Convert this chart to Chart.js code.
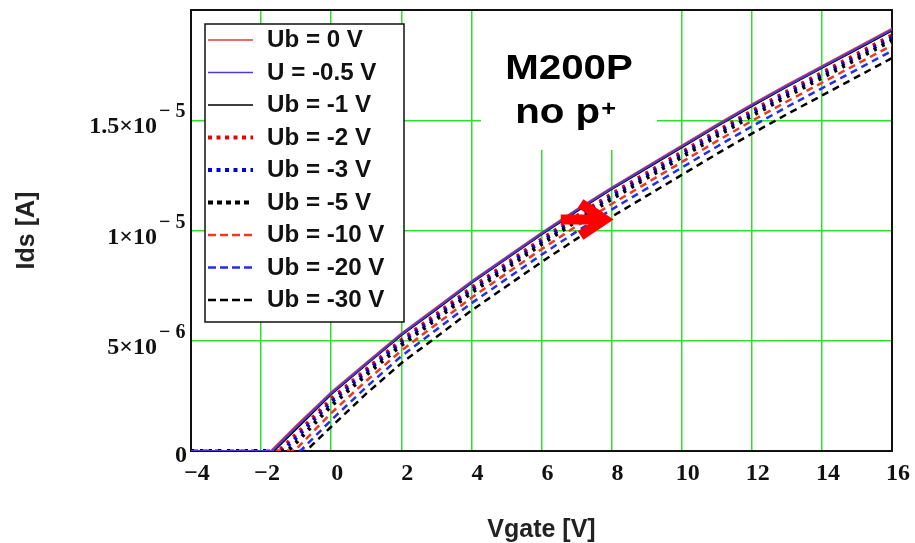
<!DOCTYPE html>
<html>
<head>
<meta charset="utf-8">
<script src="https://cdn.jsdelivr.net/npm/chart.js@4.4.1/dist/chart.umd.min.js"></script>
<style>
  html, body { margin: 0; padding: 0; background: #fff; }
</style>
</head>
<body>
<canvas id="chart" width="915" height="543"></canvas>
<script>
// gate voltage points (V) where the curves were read
const vgate = [-1, 0, 1, 2, 3, 4, 5, 6, 7, 8, 9, 10, 11, 12, 13, 14, 15, 16];

const seriesLabels = ['Ub = 0 V', 'U = -0.5 V', 'Ub = -1 V', 'Ub = -2 V', 'Ub = -3 V',
  'Ub = -5 V', 'Ub = -10 V', 'Ub = -20 V', 'Ub = -30 V'];

// gate voltage where each curve leaves zero
const thresholds = [-1.72, -1.68, -1.64, -1.5, -1.4, -1.25, -1.05, -0.88, -0.72];

// Ids in uA at each vgate point
const ub0  = [1.15, 2.67, 4.0, 5.33, 6.5, 7.7, 8.8, 9.9, 10.95, 11.95, 12.9, 13.85, 14.8, 15.72, 16.6, 17.45, 18.3, 19.15];
const ub05 = [1.08, 2.62, 3.96, 5.29, 6.46, 7.66, 8.76, 9.86, 10.91, 11.91, 12.86, 13.81, 14.76, 15.68, 16.56, 17.41, 18.26, 19.11];
const ub1  = [1.0, 2.57, 3.92, 5.25, 6.42, 7.62, 8.72, 9.82, 10.87, 11.87, 12.82, 13.77, 14.72, 15.64, 16.52, 17.37, 18.22, 19.07];
const ub2  = [0.75, 2.35, 3.7, 5.03, 6.2, 7.4, 8.5, 9.6, 10.65, 11.65, 12.6, 13.55, 14.5, 15.42, 16.3, 17.15, 18.0, 18.85];
const ub3  = [0.6, 2.22, 3.6, 4.93, 6.1, 7.3, 8.4, 9.5, 10.55, 11.55, 12.5, 13.45, 14.4, 15.32, 16.2, 17.05, 17.9, 18.75];
const ub5  = [0.38, 2.05, 3.46, 4.8, 5.98, 7.18, 8.28, 9.38, 10.43, 11.43, 12.38, 13.33, 14.28, 15.2, 16.08, 16.93, 17.78, 18.63];
const ub10 = [0.08, 1.72, 3.18, 4.55, 5.75, 6.95, 8.05, 9.15, 10.2, 11.2, 12.15, 13.1, 14.05, 14.97, 15.85, 16.7, 17.55, 18.4];
const ub20 = [null, 1.4, 2.9, 4.3, 5.5, 6.7, 7.8, 8.9, 9.95, 10.95, 11.9, 12.85, 13.8, 14.72, 15.6, 16.45, 17.3, 18.15];
const ub30 = [null, 1.1, 2.6, 3.98, 5.17, 6.37, 7.47, 8.57, 9.62, 10.62, 11.57, 12.52, 13.47, 14.39, 15.27, 16.12, 16.97, 17.82];

const xTickValues = [-4, -2, 0, 2, 4, 6, 8, 10, 12, 14, 16];
const yTickValues = [0, 5e-6, 1e-5, 1.5e-5];

// red arrow, in data coordinates (tail, tip)
const arrowTail = [6.55, 10.5e-6];
const arrowTip = [7.8, 10.5e-6];

const allValues = [ub0, ub05, ub1, ub2, ub3, ub5, ub10, ub20, ub30];
const styles = [
  { color: '#e83a3a', width: 2, dash: [], order: 1, legendWidth: 1.5, legendDash: [] },
  { color: '#4a3ad8', width: 2, dash: [], order: 0, legendWidth: 1.5, legendDash: [] },
  { color: '#000000', width: 2, dash: [], order: 2, legendWidth: 1.5, legendDash: [] },
  { color: '#ee0000', width: 4, dash: [3, 6], order: 5, legendWidth: 4, legendDash: [4, 4.5] },
  { color: '#0000ee', width: 4, dash: [3, 6], order: 4, legendWidth: 4, legendDash: [4, 4.5] },
  { color: '#000000', width: 4, dash: [3, 6], order: 3, legendWidth: 4, legendDash: [5, 4] },
  { color: '#f03820', width: 2.5, dash: [7, 5], order: 6, legendWidth: 2.5, legendDash: [8, 4] },
  { color: '#2030e8', width: 2.5, dash: [7, 5], order: 7, legendWidth: 2.5, legendDash: [8, 4] },
  { color: '#000000', width: 2.5, dash: [7, 5], order: 8, legendWidth: 2.5, legendDash: [8, 4] }
];

function curve(vth, vals) {
  const pts = [{ x: -4, y: 0 }, { x: vth, y: 0 }];
  vgate.forEach((v, i) => {
    if (vals[i] !== null && v > vth) pts.push({ x: v, y: vals[i] * 1e-6 });
  });
  return pts;
}

const datasets = seriesLabels.map((label, i) => ({
  label,
  data: curve(thresholds[i], allValues[i]),
  borderColor: styles[i].color,
  borderWidth: styles[i].width,
  borderDash: styles[i].dash,
  order: styles[i].order,
  legendWidth: styles[i].legendWidth,
  legendDash: styles[i].legendDash,
  pointRadius: 0,
  pointHoverRadius: 0,
  tension: 0,
  fill: false
}));

const serif = '"Liberation Serif", "Times New Roman", serif';
const sans = '"Liberation Sans", Arial, sans-serif';

function minus(s) {
  return String(s).replace('-', '\u2212');
}

// y tick labels in Mathcad style: 1.5x10 with raised exponent
const yLabels = {
  id: 'yLabels',
  afterDraw(chart) {
    const { ctx, scales: { y } } = chart;
    ctx.save();
    ctx.fillStyle = '#111';
    y.ticks.forEach(t => {
      const py = y.getPixelForValue(t.value);
      if (t.value === 0) {
        ctx.font = 'bold 24px ' + serif;
        ctx.textAlign = 'right';
        ctx.textBaseline = 'alphabetic';
        ctx.fillText('0', 187, py + 11);
        return;
      }
      const exp = Math.floor(Math.log10(t.value) + 1e-9);
      const mant = Math.round(t.value / Math.pow(10, exp) * 10) / 10;
      ctx.font = 'bold 24px ' + serif;
      ctx.textAlign = 'right';
      ctx.textBaseline = 'alphabetic';
      ctx.fillText(mant + '\u00d710', 157, py + 13);
      ctx.font = 'bold 20px ' + serif;
      ctx.textAlign = 'left';
      ctx.fillText('\u2212 ' + Math.abs(exp), 159, py - 3);
    });
    ctx.restore();
  }
};

const notes = {
  id: 'notes',
  beforeDatasetsDraw(chart) {
    const { ctx, chartArea: a } = chart;
    ctx.save();
    // white patch behind the device label
    ctx.fillStyle = '#fff';
    ctx.fillRect(481, a.top + 1, 176, 139);
    ctx.fillStyle = '#000';
    ctx.textBaseline = 'alphabetic';
    ctx.save();
    ctx.translate(569, 79);
    ctx.scale(1.15, 1);
    ctx.font = 'bold 35px ' + sans;
    ctx.textAlign = 'center';
    ctx.fillText('M200P', 0, 0);
    ctx.restore();

    ctx.save();
    ctx.font = 'bold 35px ' + sans;
    const w1 = ctx.measureText('no p').width;
    ctx.font = 'bold 22px ' + sans;
    const w2 = ctx.measureText('+').width;
    ctx.translate(565, 123);
    ctx.scale(1.15, 1);
    const x0 = -(w1 + w2) / 2;
    ctx.textAlign = 'left';
    ctx.font = 'bold 35px ' + sans;
    ctx.fillText('no p', x0, 0);
    ctx.font = 'bold 22px ' + sans;
    ctx.fillText('+', x0 + w1 + 1, -7);
    ctx.restore();

    // plot frame, under the curves
    ctx.strokeStyle = '#111';
    ctx.lineWidth = 2;
    ctx.strokeRect(a.left, a.top, a.right - a.left, a.bottom - a.top);
    ctx.restore();
  },
  afterDatasetsDraw(chart) {
    const { ctx, scales: { x, y } } = chart;
    ctx.save();
    // legend box
    const bx = 205, by = 24, bw = 199, bh = 298;
    ctx.fillStyle = '#fff';
    ctx.fillRect(bx, by, bw, bh);
    ctx.strokeStyle = '#111';
    ctx.lineWidth = 1.5;
    ctx.strokeRect(bx, by, bw, bh);
    chart.data.datasets.forEach((ds, i) => {
      const ry = 40 + i * 32.5;
      ctx.beginPath();
      ctx.setLineDash(ds.legendDash);
      ctx.lineWidth = ds.legendWidth;
      ctx.strokeStyle = ds.borderColor;
      ctx.moveTo(208, ry);
      ctx.lineTo(253, ry);
      ctx.stroke();
      ctx.setLineDash([]);
      ctx.save();
      ctx.translate(267, ry + 1);
      ctx.scale(1.05, 1);
      ctx.font = 'bold 23px ' + sans;
      ctx.fillStyle = '#111';
      ctx.textAlign = 'left';
      ctx.textBaseline = 'middle';
      ctx.fillText(ds.label, 0, 0);
      ctx.restore();
    });

    // red arrow
    const tx = x.getPixelForValue(arrowTail[0]), ty = y.getPixelForValue(arrowTail[1]);
    const hx = x.getPixelForValue(arrowTip[0]), hy = y.getPixelForValue(arrowTip[1]);
    ctx.strokeStyle = '#ff0000';
    ctx.lineWidth = 10;
    ctx.lineCap = 'butt';
    ctx.lineJoin = 'miter';
    ctx.beginPath();
    ctx.moveTo(tx, ty);
    ctx.lineTo(hx - 6, hy);
    ctx.stroke();
    ctx.beginPath();
    ctx.moveTo(hx - 24, hy - 16);
    ctx.lineTo(hx, hy);
    ctx.lineTo(hx - 24, hy + 16);
    ctx.stroke();
    ctx.restore();
  }
};

const gridColor = '#2ee02e';

new Chart(document.getElementById('chart'), {
  type: 'line',
  data: { datasets },
  options: {
    responsive: false,
    animation: false,
    events: [],
    layout: { padding: { top: 10, right: 21, left: 0, bottom: 0 } },
    plugins: { legend: { display: false }, tooltip: { enabled: false } },
    scales: {
      x: {
        type: 'linear',
        min: -4,
        max: 16,
        afterBuildTicks: s => { s.ticks = xTickValues.map(v => ({ value: v })); },
        afterFit: s => { s.height = 92; },
        border: { display: false },
        grid: {
          drawTicks: false,
          lineWidth: 1.5,
          color: c => (c.tick && (c.tick.value === -4 || c.tick.value === 16)) ? 'rgba(0,0,0,0)' : gridColor
        },
        ticks: {
          padding: 11,
          labelOffset: 6,
          maxRotation: 0,
          autoSkip: false,
          color: '#111',
          font: { family: serif, size: 24, weight: 'bold', lineHeight: 1 },
          callback: v => minus(v)
        },
        title: {
          display: true,
          text: 'Vgate [V]',
          color: '#222',
          font: { family: sans, size: 25, weight: 'bold', lineHeight: 1 },
          padding: { top: 0, bottom: 0 }
        }
      },
      y: {
        min: 0,
        max: 2e-5,
        afterBuildTicks: s => { s.ticks = yTickValues.map(v => ({ value: v })); },
        afterFit: s => { s.width = 191; },
        border: { display: false },
        grid: {
          drawTicks: false,
          lineWidth: 1.5,
          color: c => (c.tick && c.tick.value === 0) ? 'rgba(0,0,0,0)' : gridColor
        },
        ticks: { display: false },
        title: {
          display: true,
          text: 'Ids [A]',
          color: '#222',
          font: { family: sans, size: 25, weight: 'bold', lineHeight: 1 },
          padding: { top: 15, bottom: 0 }
        }
      }
    }
  },
  plugins: [yLabels, notes]
});
</script>
</body>
</html>
